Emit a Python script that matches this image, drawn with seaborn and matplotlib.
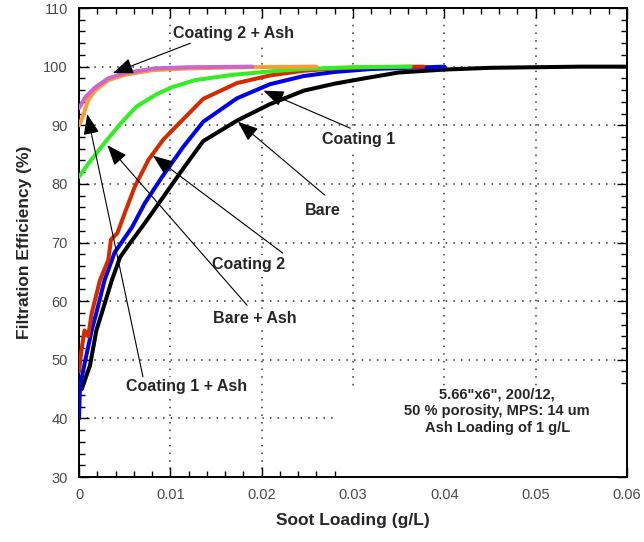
import matplotlib
matplotlib.use("Agg")
import matplotlib.pyplot as plt
import matplotlib.patches as patches
import seaborn as sns


# Bare
bare_x = [0.0003, 0.0012, 0.0019, 0.0025, 0.0036, 0.0045, 0.0054, 0.0072, 0.0091, 0.0114,
          0.0136, 0.0173, 0.0209, 0.0246, 0.028, 0.0316, 0.035, 0.040, 0.045, 0.050, 0.055, 0.060]
bare_y = [45, 49, 55, 58, 63.6, 67.5, 69.5, 73.3, 77.5, 82.6,
          87.3, 90.8, 93.6, 95.9, 97.1, 98.1, 99.0, 99.5, 99.8, 99.9, 100, 100]

# Coating 1
coat1_x = [0, 0.0001, 0.0003, 0.0007, 0.0014, 0.0019, 0.0028, 0.0039, 0.0058, 0.0072, 0.0091,
           0.0114, 0.0136, 0.0173, 0.0209, 0.0246, 0.028, 0.032, 0.036, 0.040]
coat1_y = [40, 45.3, 47, 50, 55.1, 58, 63.6, 68.3, 72.6, 76.7, 81.2,
           86.3, 90.6, 94.6, 97.0, 98.4, 99.1, 99.6, 99.8, 100]

# Coating 2
coat2_x = [0, 0.0003, 0.0006, 0.0010, 0.0014, 0.0023, 0.0032, 0.0035, 0.0042, 0.0050, 0.0061,
           0.0076, 0.0092, 0.0100, 0.0136, 0.0173, 0.0209, 0.0246, 0.028, 0.032, 0.0377]
coat2_y = [48, 52, 55, 54, 58, 63.6, 67, 70.5, 71.6, 75.0, 79.5,
           84.1, 87.5, 88.8, 94.5, 97.2, 98.5, 99.3, 99.7, 99.9, 100]

# Bare + Ash
bare_ash_x = [0, 0.0009, 0.0028, 0.0045, 0.0063, 0.0085, 0.0102, 0.0127, 0.0168, 0.021,
              0.0246, 0.030, 0.0363]
bare_ash_y = [81.2, 83.2, 87, 90.2, 93.2, 95.3, 96.5, 97.7, 98.6, 99.2, 99.6, 99.9, 100]

# Coating 1 + Ash
coat1_ash_x = [0, 0.0004, 0.001, 0.0018, 0.0032, 0.005, 0.008, 0.012, 0.018, 0.026]
coat1_ash_y = [90, 91.4, 94.3, 96.0, 97.7, 98.6, 99.4, 99.7, 99.9, 100]

# Coating 2 + Ash
coat2_ash_x = [0, 0.0007, 0.0018, 0.0032, 0.005, 0.0083, 0.012, 0.019]
coat2_ash_y = [92.9, 94.8, 96.5, 98.0, 98.9, 99.7, 99.9, 100]

x_ticks = [0, 0.01, 0.02, 0.03, 0.04, 0.05, 0.06]
x_tick_labels = ["0", "0.01", "0.02", "0.03", "0.04", "0.05", "0.06"]
y_ticks = [30, 40, 50, 60, 70, 80, 90, 100, 110]

# label text, text position, arrow tail, arrow head
callouts = [
    ("Coating 2 + Ash", (0.0169, 105.7), (0.0122, 104.0), (0.0037, 98.9)),
    ("Coating 1", (0.0306, 87.5), (0.0297, 89.5), (0.0202, 95.9)),
    ("Bare", (0.0267, 75.4), (0.0269, 78.1), (0.0174, 90.6)),
    ("Coating 2", (0.0186, 66.2), (0.0223, 68.2), (0.0081, 84.8)),
    ("Bare + Ash", (0.0193, 57.1), (0.0184, 59.3), (0.0031, 86.6)),
    ("Coating 1 + Ash", (0.0118, 45.4), (0.0070, 47.1), (0.0009, 91.9)),
]

info_text = '5.66"x6", 200/12,\n50 % porosity, MPS: 14 um\nAsh Loading of 1 g/L'


def main() -> None:
    sns.set_style("ticks")
    plt.rcParams["font.family"] = ["Liberation Sans", "DejaVu Sans"]

    fig = plt.figure(figsize=(6.44, 5.42), dpi=100)
    ax = fig.add_axes([0.1227, 0.1199, 0.8509, 0.8653])

    series = [
        (bare_x, bare_y, "black"),
        (coat1_x, coat1_y, "#0000e6"),
        (coat2_x, coat2_y, "#d42a00"),
        (bare_ash_x, bare_ash_y, "#33ee22"),
        (coat1_ash_x, coat1_ash_y, "#ff9933"),
        (coat2_ash_x, coat2_ash_y, "#cc66cc"),
    ]
    for xs, ys, col in series:
        sns.lineplot(x=xs, y=ys, ax=ax, color=col, linewidth=2.9, zorder=3)

    ax.set_xlim(0, 0.06)
    ax.set_ylim(30, 110)
    ax.set_xticks(x_ticks)
    ax.set_xticklabels(x_tick_labels)
    ax.set_yticks(y_ticks)
    ax.xaxis.set_minor_locator(matplotlib.ticker.MultipleLocator(0.002))
    ax.yaxis.set_minor_locator(matplotlib.ticker.MultipleLocator(2))
    ax.tick_params(which="both", direction="in", top=True, right=True,
                   colors="black", labelcolor="#4a4a4a", labelsize=10.5)
    ax.tick_params(which="major", length=7, width=1, pad=8)
    ax.tick_params(which="minor", length=4, width=1)
    for sp in ax.spines.values():
        sp.set_linewidth(1.4)
        sp.set_color("black")

    ax.grid(True, which="major", color="#333333", linestyle=(0, (1, 4)), linewidth=1.1)
    ax.set_axisbelow(True)

    ax.set_xlabel("Soot Loading (g/L)", fontsize=12.5, fontweight="bold", labelpad=8)
    ax.set_ylabel("Filtration Efficiency (%)", fontsize=12.5, fontweight="bold", labelpad=8)

    # white panel behind the info text hides the grid there
    ax.add_patch(patches.Rectangle((0.0283, 30), 0.0317, 15.2, facecolor="white",
                                   edgecolor="none", zorder=1))
    ax.text(0.0458, 41.2, info_text, ha="center", va="center", fontsize=10.5,
            fontweight="bold", linespacing=1.25, zorder=4)

    for label, txt_pos, tail, head in callouts:
        ax.annotate("", xy=head, xytext=tail,
                    arrowprops=dict(arrowstyle="-|>,head_length=0.9,head_width=0.35",
                                    color="black", lw=0.8, mutation_scale=14,
                                    shrinkA=0, shrinkB=0),
                    zorder=5)
        ax.text(txt_pos[0], txt_pos[1], label, ha="center", va="center",
                fontsize=11.5, fontweight="bold", zorder=4,
                bbox=dict(facecolor="white", edgecolor="none", pad=1.5))

    fig.savefig("out.png", dpi=100)


if __name__ == "__main__":
    main()
